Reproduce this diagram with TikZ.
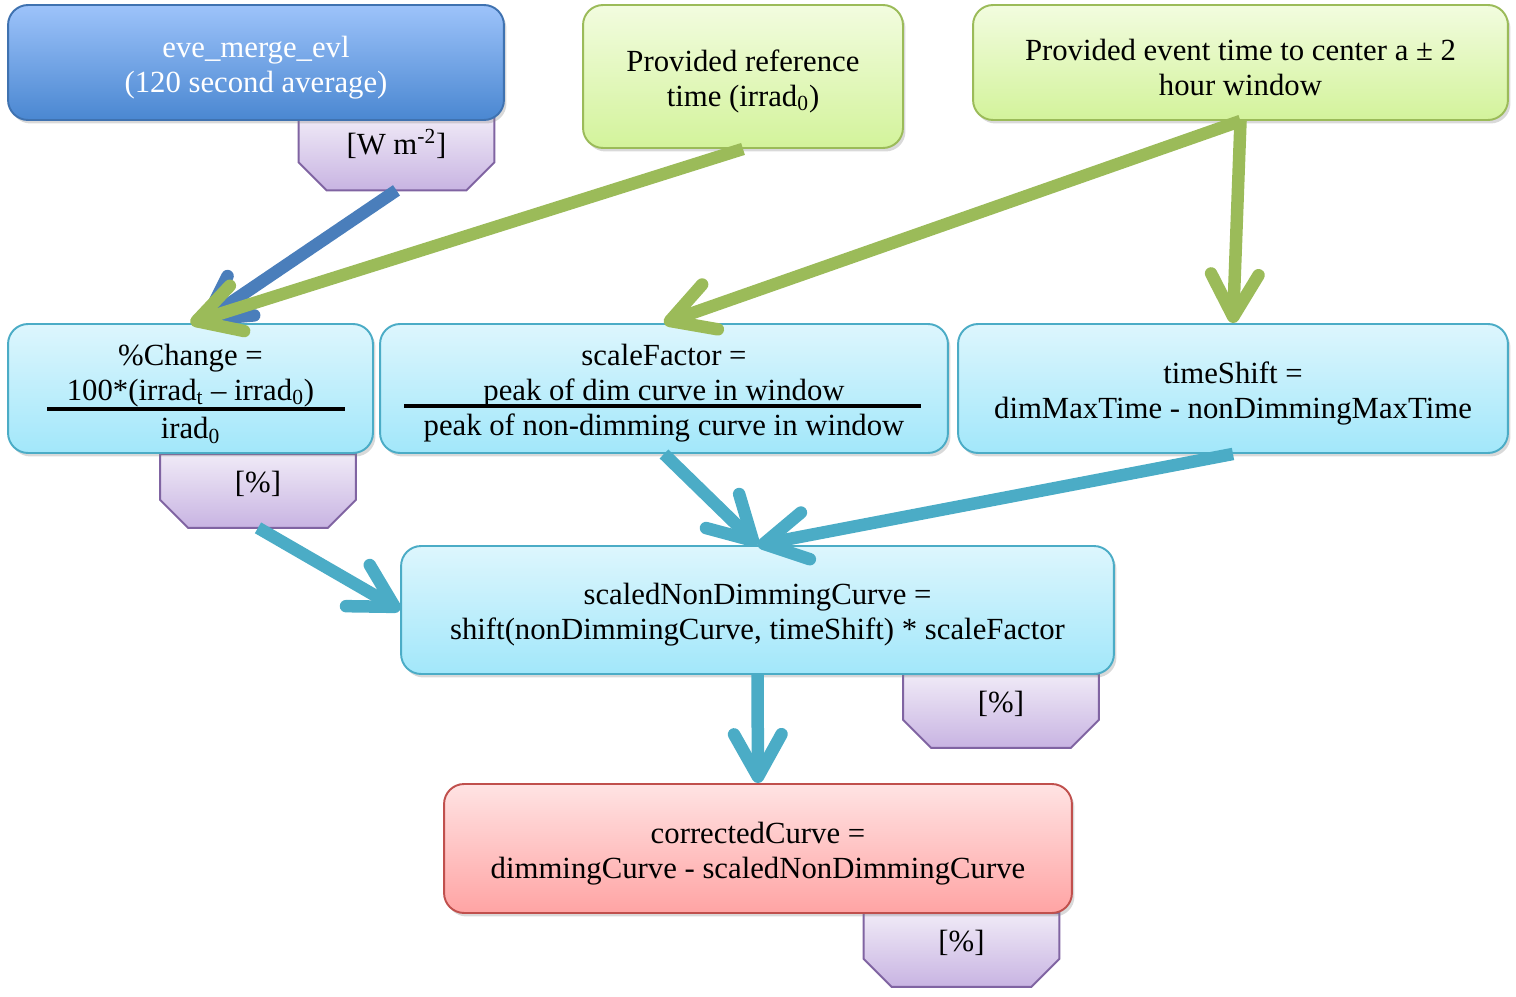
\documentclass[tikz,border=0pt]{standalone}
\usepackage{fontspec}
\setmainfont{Liberation Serif}
\usetikzlibrary{arrows.meta,shadows,backgrounds}

\definecolor{blueline}{HTML}{3F72B0}
\definecolor{bluetop}{HTML}{9DC3FA}
\definecolor{bluebot}{HTML}{4A87D1}
\definecolor{greenline}{HTML}{9BBB59}
\definecolor{greentop}{HTML}{F2FCDF}
\definecolor{greenbot}{HTML}{D3F39B}
\definecolor{cyanline}{HTML}{4BACC6}
\definecolor{cyantop}{HTML}{DDF6FD}
\definecolor{cyanbot}{HTML}{A2E7FA}
\definecolor{redline}{HTML}{C0504D}
\definecolor{redtop}{HTML}{FFE3E3}
\definecolor{redbot}{HTML}{FFA4A4}
\definecolor{tagline}{HTML}{8064A2}
\definecolor{tagtop}{HTML}{F0EAF7}
\definecolor{tagbot}{HTML}{C8B4E2}
\definecolor{bluearrow}{HTML}{4A7EBB}

\newcommand{\toplift}{\rule{0pt}{17.8pt}} % schiebt den Text etwas nach unten

\tikzstyle{formbox} = [draw, rounded corners=0.4cm, line width=1.1pt, align=center, inner sep=0pt, drop shadow={opacity=0.3, shadow xshift=0.05cm, shadow yshift=-0.07cm}]
\tikzstyle{bluebox} = [formbox, draw=blueline, top color=bluetop, bottom color=bluebot, text=white]
\tikzstyle{greenbox} = [formbox, draw=greenline, top color=greentop, bottom color=greenbot]
\tikzstyle{cyanbox} = [formbox, draw=cyanline, top color=cyantop, bottom color=cyanbot]
\tikzstyle{redbox} = [formbox, draw=redline, top color=redtop, bottom color=redbot]
\tikzstyle{unittag} = [minimum width=3.9cm, minimum height=1.46cm, inner sep=0pt, text height=0.45cm, text depth=0.39cm]
\tikzstyle{tagshape} = [draw=tagline, line width=1.1pt, top color=tagtop, bottom color=tagbot]
\tikzstyle{fracline} = [line width=2.2pt]
\tikzstyle{flow} = [line width=0.25cm, -{Straight Barb[length=0.85cm, width=0.95cm, round]}]

\begin{document}
\begin{tikzpicture}[x=0.02cm, y=-0.02cm, font=\fontsize{17.5pt}{19.9pt}\selectfont]
	\useasboundingbox (0,0) rectangle (1516,997);

	% Eingaben oben
	\node[bluebox, minimum width=9.92cm, minimum height=2.3cm] (eve) at (256,62.5) {\toplift eve\_merge\_evl\\(120 second average)};
	\node[greenbox, minimum width=6.4cm, minimum height=2.86cm] (ref) at (743,76.5) {\toplift Provided reference\\time (irrad\textsubscript{0})};
	\node[greenbox, minimum width=10.7cm, minimum height=2.3cm] (evt) at (1240.5,62.5) {\toplift Provided event time to center a ± 2\\hour window};

	% Rechenschritte
	\node[cyanbox, minimum width=7.3cm, minimum height=2.58cm] (chg) at (190.5,388.5) {\toplift\%Change =\\100*(irrad\textsubscript{t} – irrad\textsubscript{0})\\[2pt]irad\textsubscript{0}};
	\draw[fracline] (47,409) -- (345,409); % Bruchstrich
	\node[cyanbox, minimum width=11.36cm, minimum height=2.58cm] (sf) at (664,388.5) {\toplift scaleFactor =\\peak of dim curve in window\\peak of non-dimming curve in window};
	\draw[fracline] (404,406) -- (921,406); % Bruchstrich
	\node[cyanbox, minimum width=11cm, minimum height=2.58cm] (ts) at (1233,388.5) {\toplift timeShift =\\dimMaxTime - nonDimmingMaxTime};
	\node[cyanbox, minimum width=14.26cm, minimum height=2.56cm] (sc) at (757.5,610) {\toplift scaledNonDimmingCurve =\\shift(nonDimmingCurve, timeShift) * scaleFactor};
	\node[redbox, minimum width=12.56cm, minimum height=2.58cm] (cc) at (758,848.5) {\toplift correctedCurve =\\dimmingCurve - scaledNonDimmingCurve};

	% Einheiten
	\node[unittag] (wm) at (396.5,153.5) {[W m\textsuperscript{-2}]};
	\node[unittag] (pc1) at (258,491) {[\%]};
	\node[unittag] (pc2) at (1001,711) {[\%]};
	\node[unittag] (pc3) at (961.5,950) {[\%]};
	\begin{scope}[on background layer]
		\foreach \t in {wm,pc1,pc2,pc3}
			\draw[tagshape] (\t.north west) -- (\t.north east) -- ([yshift=0.56cm]\t.south east) -- ([xshift=-0.56cm]\t.south east) -- ([xshift=0.56cm]\t.south west) -- ([yshift=0.56cm]\t.south west) -- cycle;
	\end{scope}

	% Pfeile
	\draw[flow, draw=bluearrow] (wm.south) -- ([xshift=0.2cm]chg.north);
	\draw[flow, draw=greenline] (ref.south) -- (chg.north);
	\draw[flow, draw=greenline] (evt.south) -- (sf.north);
	\draw[flow, draw=greenline] (evt.south) -- (ts.north);
	\draw[flow, draw=cyanline] (pc1.south) -- (sc.west);
	\draw[flow, draw=cyanline] (sf.south) -- (sc.north);
	\draw[flow, draw=cyanline] (ts.south) -- (sc.north);
	\draw[flow, draw=cyanline] (sc.south) -- (cc.north);
\end{tikzpicture}
\end{document}
